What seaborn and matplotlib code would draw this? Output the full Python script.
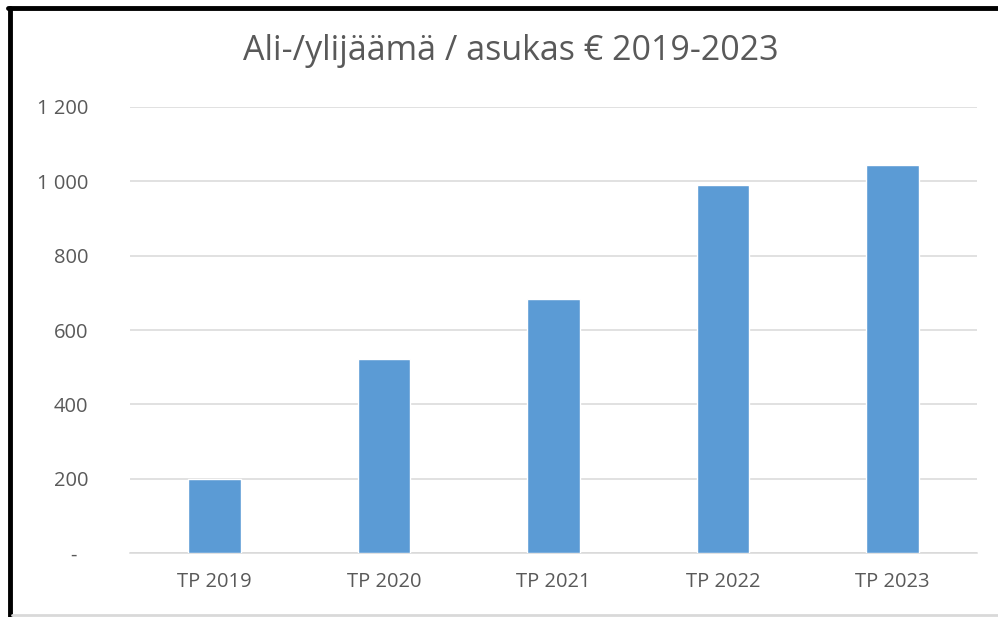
import pandas as pd
import matplotlib.pyplot as plt
import matplotlib.lines as mlines
import seaborn as sns

# ── Data ─────────────────────────────────────────────────────────────────────
years = ['TP 2019', 'TP 2020', 'TP 2021', 'TP 2022', 'TP 2023']
values = [200, 522, 684, 990, 1045]
yticks = [0, 200, 400, 600, 800, 1000, 1200]
ytick_labels = ['-  ', '200', '400', '600', '800', '1 000', '1 200']

df = pd.DataFrame({'vuosi': years, 'arvo': values})

# ── Style ────────────────────────────────────────────────────────────────────
sns.set_style('white')
plt.rcParams['font.family'] = ['Open Sans', 'DejaVu Sans']
grey = '#595959'

fig = plt.figure(figsize=(9.98, 6.17), dpi=100)
ax = fig.add_axes([0.130, 0.1037, 0.849, 0.7229])

sns.barplot(data=df, x='vuosi', y='arvo', color='#5b9bd5', saturation=1,
            width=0.31, ax=ax, zorder=3)

ax.set_ylim(0, 1200)
ax.set_yticks(yticks)
ax.set_yticklabels(ytick_labels)
ax.set_xlabel('')
ax.set_ylabel('')
ax.grid(axis='y', color='#d9d9d9', linewidth=1.1, zorder=0)
ax.tick_params(axis='y', length=0, pad=30, labelsize=14.5, labelcolor=grey)
ax.tick_params(axis='x', length=0, pad=14, labelsize=14.5, labelcolor=grey)
for s in ['top', 'right', 'left']:
    ax.spines[s].set_visible(False)
ax.spines['bottom'].set_color('#d9d9d9')
ax.spines['bottom'].set_linewidth(1.1)

fig.text(0.512, 0.918, 'Ali-/ylijäämä / asukas € 2019-2023', ha='center',
         va='center', fontsize=24.5, color=grey)

# ── Frame around the chart ───────────────────────────────────────────────────
fig.add_artist(mlines.Line2D([0.010, 0.010], [0.0, 0.987], color='black',
                             linewidth=3.5, transform=fig.transFigure))
fig.add_artist(mlines.Line2D([0.008, 1.0], [0.987, 0.987], color='black',
                             linewidth=3.5, transform=fig.transFigure))
fig.add_artist(mlines.Line2D([0.012, 1.0], [0.004, 0.004], color='#d9d9d9',
                             linewidth=2, transform=fig.transFigure))

plt.savefig('out.png', dpi=100)
plt.close()
